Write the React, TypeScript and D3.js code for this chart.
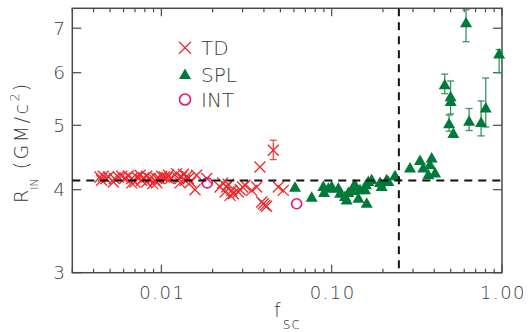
import React, { useEffect, useRef } from 'react';
import * as d3 from 'd3';

// TD (thermal dominant) points: [f_sc, R_in]
const tdPoints: [number, number][] = [
  [0.00436, 4.18], [0.00446, 4.133], [0.00456, 4.19], [0.00473, 4.157], [0.00489, 4.18],
  [0.00523, 4.109], [0.0053, 4.157], [0.00559, 4.18], [0.00585, 4.19], [0.00612, 4.165],
  [0.0064, 4.195], [0.0067, 4.157], [0.0067, 4.095], [0.007, 4.109], [0.00717, 4.18],
  [0.0075, 4.205], [0.00766, 4.133], [0.0079, 4.17], [0.0082, 4.109], [0.0082, 4.19],
  [0.00858, 4.157], [0.0089, 4.085], [0.00918, 4.133], [0.0094, 4.095], [0.0094, 4.157],
  [0.0097, 4.157], [0.01005, 4.19], [0.0104, 4.18], [0.0108, 4.17], [0.011, 4.205],
  [0.0113, 4.157], [0.0123, 4.229], [0.0126, 4.157], [0.01287, 4.095], [0.01316, 4.18],
  [0.01346, 4.22], [0.01377, 4.133], [0.0141, 4.19], [0.0144, 4.157], [0.01486, 4.109],
  [0.01577, 4.0], [0.0161, 4.205], [0.01846, 4.157], [0.0221, 4.037], [0.0229, 4.095],
  [0.02366, 3.968], [0.0242, 4.037], [0.0247, 4.075], [0.0253, 3.922], [0.0259, 3.991],
  [0.02647, 3.945], [0.0283, 3.968], [0.029, 4.0], [0.03, 4.037], [0.031, 4.061],
  [0.0339, 3.991], [0.0363, 4.037], [0.0379, 4.328], [0.0388, 3.832], [0.0397, 3.81],
  [0.0406, 3.788], [0.0415, 3.776], [0.0454, 4.586], [0.0486, 4.037], [0.052, 3.991],
];

// TD error bars: [f_sc, low, high]
const tdErrors: [number, number, number][] = [[0.0454, 4.44, 4.748]];

// SPL (steep power law) points: [f_sc, R_in]
const splPoints: [number, number][] = [
  [0.0609, 4.028], [0.0763, 3.89], [0.0893, 4.037], [0.0902, 3.954], [0.0956, 4.014],
  [0.1, 4.037], [0.1094, 4.014], [0.112, 3.945], [0.1197, 3.9], [0.1225, 3.853],
  [0.1253, 3.954], [0.131, 3.982], [0.134, 4.037], [0.137, 4.061], [0.1435, 3.876],
  [0.1466, 3.991], [0.157, 3.991], [0.159, 4.061], [0.1606, 3.81], [0.164, 4.109],
  [0.1717, 4.133], [0.1922, 4.095], [0.1965, 4.037], [0.2104, 4.133], [0.215, 4.109],
  [0.2354, 4.19], [0.2884, 4.304], [0.33, 4.42], [0.345, 4.304], [0.3694, 4.205],
  [0.3776, 4.353], [0.3865, 4.455], [0.4045, 4.229],
  [0.461, 5.746], [0.499, 5.51], [0.5, 5.42], [0.489, 5.02], [0.518, 4.85],
  [0.615, 7.12], [0.641, 5.06], [0.754, 5.04], [0.803, 5.3], [0.962, 6.39],
];

// SPL error bars: [f_sc, low, high]
const splErrors: [number, number, number][] = [
  [0.461, 5.58, 5.97], [0.499, 5.2, 5.83], [0.489, 4.9, 5.18], [0.615, 6.68, 7.46],
  [0.641, 4.91, 5.3], [0.754, 4.82, 5.44], [0.803, 4.97, 5.89], [0.962, 6.0, 6.5],
];

// INT (intermediate) points
const intPoints: [number, number][] = [[0.0186, 4.095], [0.0623, 3.81]];

const xTickValues = [0.01, 0.1, 1];
const xTickLabels = ['0.01', '0.10', '1.00'];
const yTickValues = [3, 4, 5, 6, 7];
const refR = 4.13;
const refF = 0.248;

const RED = '#f0282c';
const GREEN = '#007a3a';
const MAGENTA = '#e8107a';
const AXIS = '#4a4a4a';
const TEXT = '#3a3a3a';
const FONT = 'DejaVu Sans, sans-serif';

const App = () => {
  const ref = useRef<SVGSVGElement>(null);

  useEffect(() => {
    const svg = d3.select(ref.current);
    svg.selectAll('*').remove();

    const left = 72.3, right = 502, top = 8.3, bottom = 272.7;
    const x = d3.scaleLog().domain([0.003, 1]).range([left, right]);
    const y = d3.scaleLog().domain([3, 7.5]).range([bottom, top]);

    const cross = (g: any, cx: number, cy: number, color: string, s = 5.5) => {
      g.append('line').attr('x1', cx - s).attr('y1', cy - s).attr('x2', cx + s).attr('y2', cy + s)
        .attr('stroke', color).attr('stroke-width', 1.3);
      g.append('line').attr('x1', cx - s).attr('y1', cy + s).attr('x2', cx + s).attr('y2', cy - s)
        .attr('stroke', color).attr('stroke-width', 1.3);
    };
    const tri = (cx: number, cy: number) => `M${cx},${cy - 6.5}L${cx + 6},${cy + 4}L${cx - 6},${cy + 4}Z`;

    // frame
    svg.append('rect').attr('x', left).attr('y', top).attr('width', right - left).attr('height', bottom - top)
      .attr('fill', 'none').attr('stroke', AXIS).attr('stroke-width', 1.5);

    // x ticks (bottom and top), minor at 2..9
    const minor: number[] = [];
    [0.001, 0.01, 0.1].forEach(d => { for (let k = 2; k <= 9; k++) if (d * k >= 0.003 && d * k < 1) minor.push(d * k); });
    const tickG = svg.append('g').attr('stroke', AXIS).attr('stroke-width', 1.2);
    minor.forEach(v => {
      tickG.append('line').attr('x1', x(v)).attr('x2', x(v)).attr('y1', bottom).attr('y2', bottom - 4);
      tickG.append('line').attr('x1', x(v)).attr('x2', x(v)).attr('y1', top).attr('y2', top + 4);
    });
    xTickValues.forEach(v => {
      tickG.append('line').attr('x1', x(v)).attr('x2', x(v)).attr('y1', bottom).attr('y2', bottom - 8);
      tickG.append('line').attr('x1', x(v)).attr('x2', x(v)).attr('y1', top).attr('y2', top + 8);
    });
    yTickValues.forEach(v => {
      tickG.append('line').attr('x1', left).attr('x2', left + 9).attr('y1', y(v)).attr('y2', y(v));
      tickG.append('line').attr('x1', right).attr('x2', right - 9).attr('y1', y(v)).attr('y2', y(v));
    });

    // tick labels
    svg.append('g').selectAll('text').data(xTickValues).enter().append('text')
      .attr('x', d => x(d) + 1).attr('y', 298.5).attr('text-anchor', 'middle')
      .attr('font-family', FONT).attr('font-size', 18).attr('font-weight', 300)
      .attr('letter-spacing', 1.5).attr('fill', TEXT)
      .text((d, i) => xTickLabels[i]);
    svg.append('g').selectAll('text').data(yTickValues).enter().append('text')
      .attr('x', 65).attr('y', d => y(d) + 6.5).attr('text-anchor', 'end')
      .attr('font-family', FONT).attr('font-size', 18.5).attr('font-weight', 300).attr('fill', TEXT)
      .text(d => d);

    // axis titles
    const xt = svg.append('text').attr('x', 274).attr('y', 317)
      .attr('font-family', FONT).attr('font-size', 19).attr('font-weight', 300).attr('fill', TEXT);
    xt.append('tspan').text('f');
    xt.append('tspan').attr('dy', 12).attr('dx', 2).attr('font-size', 15).attr('letter-spacing', 1).text('sc');

    const yt = svg.append('text').attr('transform', 'translate(28,203) rotate(-90)')
      .attr('font-family', FONT).attr('font-size', 19).attr('font-weight', 300).attr('fill', TEXT);
    yt.append('tspan').text('R');
    yt.append('tspan').attr('dy', 10).attr('font-size', 11).text('IN');
    yt.append('tspan').attr('dy', -10).attr('dx', 9).attr('letter-spacing', 2.5).text('(GM/c');
    yt.append('tspan').attr('dy', -9).attr('font-size', 13).text('2');
    yt.append('tspan').attr('dy', 9).attr('dx', 2).text(')');

    // error bars
    const errBar = (data: [number, number, number][], color: string) => {
      const g = svg.append('g').attr('stroke', color).attr('stroke-width', 1.3);
      data.forEach(([f, lo, hi]) => {
        g.append('line').attr('x1', x(f)).attr('x2', x(f)).attr('y1', y(lo)).attr('y2', Math.max(y(hi), top));
        g.append('line').attr('x1', x(f) - 3.5).attr('x2', x(f) + 3.5).attr('y1', y(lo)).attr('y2', y(lo));
        if (y(hi) > top) g.append('line').attr('x1', x(f) - 3.5).attr('x2', x(f) + 3.5).attr('y1', y(hi)).attr('y2', y(hi));
      });
    };
    errBar(splErrors, '#3d9163');
    errBar(tdErrors, '#f0484c');

    // points
    const tdG = svg.append('g');
    tdPoints.forEach(([f, r]) => cross(tdG, x(f), y(r), RED));
    svg.append('g').selectAll('circle').data(intPoints).enter().append('circle')
      .attr('cx', d => x(d[0])).attr('cy', d => y(d[1])).attr('r', 5)
      .attr('fill', 'none').attr('stroke', MAGENTA).attr('stroke-width', 1.6);
    svg.append('g').selectAll('path').data(splPoints).enter().append('path')
      .attr('d', d => tri(x(d[0]), y(d[1]))).attr('fill', GREEN);

    // reference lines
    svg.append('line').attr('x1', left).attr('x2', right).attr('y1', y(refR)).attr('y2', y(refR))
      .attr('stroke', '#111').attr('stroke-width', 2).attr('stroke-dasharray', '8,6');
    svg.append('line').attr('x1', x(refF)).attr('x2', x(refF)).attr('y1', top).attr('y2', bottom)
      .attr('stroke', '#111').attr('stroke-width', 2).attr('stroke-dasharray', '8,6');

    // legend
    const lg = svg.append('g');
    cross(lg, 185, 47.7, RED, 6);
    lg.append('path').attr('d', tri(185, 75)).attr('fill', GREEN);
    lg.append('circle').attr('cx', 185).attr('cy', 99.5).attr('r', 5.5)
      .attr('fill', 'none').attr('stroke', MAGENTA).attr('stroke-width', 1.6);
    [['TD', 47.7], ['SPL', 74], ['INT', 99.5]].forEach(([t, cy]) => {
      lg.append('text').attr('x', 201).attr('y', (cy as number) + 7.5)
        .attr('font-family', FONT).attr('font-size', 20).attr('font-weight', 300).attr('fill', TEXT)
        .text(t as string);
    });
  }, []);

  return (
    <div style={{ position: 'absolute', left: 0, top: 0 }}>
      <svg ref={ref} width={528} height={332} style={{ display: 'block', background: '#fff' }}></svg>
    </div>
  );
};

export default App;
